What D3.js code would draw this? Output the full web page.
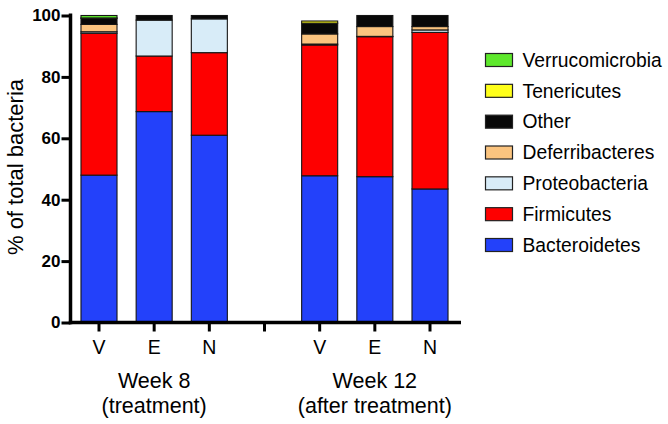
<!DOCTYPE html>
<html>
<head>
<meta charset="utf-8">
<script src="https://cdn.jsdelivr.net/npm/d3@7"></script>
<style>
  html, body { margin: 0; padding: 0; background: #fff; }
  svg { display: block; font-family: "Liberation Sans", Arial, Helvetica, sans-serif; }
</style>
</head>
<body>
<svg id="chart" width="668" height="424"></svg>
<script>
// ---- data ----
const slots = ["w8V", "w8E", "w8N", "gap", "w12V", "w12E", "w12N"];
const slotLabels = ["V", "E", "N", "", "V", "E", "N"];
const bars = ["w8V", "w8E", "w8N", "w12V", "w12E", "w12N"];
const groupLabels = [["Week 8", "(treatment)"], ["Week 12", "(after treatment)"]];
const groupCenters = ["w8E", "w12E"];
const series = ["Bacteroidetes", "Firmicutes", "Proteobacteria", "Deferribacteres", "Other", "Tenericutes", "Verrucomicrobia"];
const colors = ["#2341fa", "#fe0000", "#d8ecf8", "#fbc47f", "#080808", "#ffff1a", "#5ee82c"];
const bacteroidetes   = [48.0, 68.7, 61.0, 47.8, 47.5, 43.5];
const firmicutes      = [46.2, 18.1, 26.9, 42.6, 45.6, 51.0];
const proteobacteria  = [0.5, 11.7, 11.0, 0.3, 0.1, 0.8];
const deferribacteres = [2.4, 0.0, 0.0, 3.3, 3.2, 1.1];
const other           = [2.0, 1.5, 1.1, 3.5, 3.6, 3.6];
const tenericutes     = [0.1, 0.0, 0.0, 0.7, 0.0, 0.0];
const verrucomicrobia = [0.8, 0.0, 0.0, 0.0, 0.0, 0.0];
const yTicks = [0, 20, 40, 60, 80, 100];
const yLabel = "% of total bacteria";

const seriesValues = [bacteroidetes, firmicutes, proteobacteria, deferribacteres, other, tenericutes, verrucomicrobia];
const table = bars.map((b, i) => {
  const row = { key: b };
  series.forEach((s, j) => row[s] = seriesValues[j][i]);
  return row;
});

// ---- layout ----
const svg = d3.select("#chart");
const x = d3.scaleBand().domain(slots).range([70.5, 458.5]).paddingInner(0.347).paddingOuter(0.19);
const y = d3.scaleLinear().domain([0, 100]).range([322.5, 15.5]);
const color = d3.scaleOrdinal().domain(series).range(colors);

const stack = d3.stack().keys(series)(table);

const g = svg.append("g");
g.selectAll("g.layer").data(stack).join("g")
  .attr("class", "layer")
  .attr("fill", d => color(d.key))
  .selectAll("rect").data(d => d.filter(p => p[1] - p[0] > 0)).join("rect")
  .attr("x", d => x(d.data.key))
  .attr("width", x.bandwidth())
  .attr("y", d => y(d[1]))
  .attr("height", d => y(d[0]) - y(d[1]))
  .attr("stroke", "#151515")
  .attr("stroke-width", 1.1);

// y axis
const yAxis = svg.append("g").attr("transform", "translate(70.5,0)")
  .call(d3.axisLeft(y).tickValues(yTicks).tickSize(9).tickSizeOuter(0).tickPadding(1));
yAxis.select(".domain").attr("stroke", "#000").attr("stroke-width", 3.5).attr("d", "M0,13.5V324.2");
yAxis.selectAll(".tick line").attr("stroke", "#000").attr("stroke-width", 3);
yAxis.selectAll(".tick text").attr("fill", "#000").attr("font-size", 17).attr("font-weight", "bold")
  .attr("font-family", "'Liberation Sans', Arial, sans-serif");

// x axis
const xAxis = svg.append("g").attr("transform", "translate(0,322.5)")
  .call(d3.axisBottom(x).tickSize(9).tickSizeOuter(0).tickPadding(9)
    .tickFormat((d, i) => slotLabels[i]));
xAxis.select(".domain").attr("stroke", "#000").attr("stroke-width", 3.5).attr("d", "M68.8,0H461");
xAxis.selectAll(".tick line").attr("stroke", "#000").attr("stroke-width", 3);
xAxis.selectAll(".tick text").attr("fill", "#000").attr("font-size", 19.5)
  .attr("font-family", "'Liberation Sans', Arial, sans-serif");

// group labels
groupLabels.forEach((lines, i) => {
  const cx = x(groupCenters[i]) + x.bandwidth() / 2;
  lines.forEach((t, k) => {
    svg.append("text").attr("x", cx).attr("y", 388 + k * 25)
      .attr("text-anchor", "middle").attr("font-size", 21.5).attr("fill", "#000").text(t);
  });
});

// y label
svg.append("text")
  .attr("transform", "translate(23,167) rotate(-90)")
  .attr("text-anchor", "middle").attr("font-size", 22).attr("fill", "#000").text(yLabel);

// legend
const legendOrder = series.slice().reverse();
const ly = d3.scalePoint().domain(legendOrder).range([60, 245]);
const leg = svg.append("g");
legendOrder.forEach(s => {
  const cy = ly(s);
  leg.append("rect").attr("x", 485.5).attr("y", cy - 6.5).attr("width", 27).attr("height", 13)
    .attr("fill", color(s)).attr("stroke", "#222").attr("stroke-width", 1.2);
  leg.append("text").attr("x", 522.5).attr("y", cy + 6.8).attr("font-size", 19.3).attr("fill", "#000").text(s);
});
</script>
</body>
</html>
